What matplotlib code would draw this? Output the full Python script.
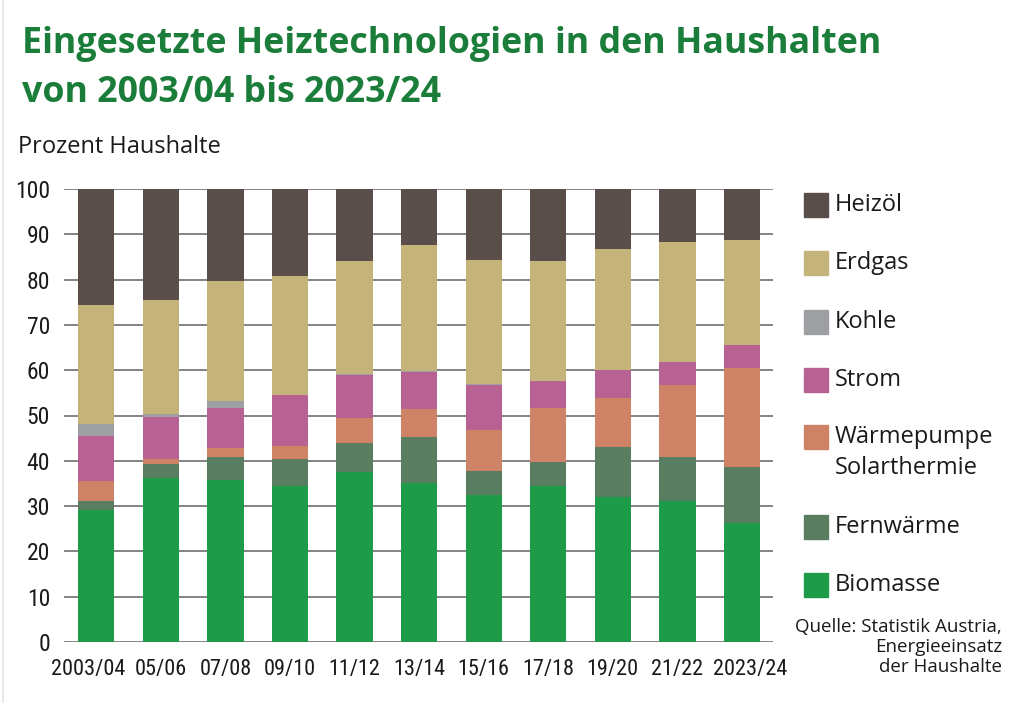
import matplotlib
matplotlib.use("Agg")
import matplotlib.pyplot as plt
from matplotlib import font_manager
from matplotlib.patches import Rectangle
from matplotlib.lines import Line2D
import matplotlib.transforms as mtransforms
import numpy as np

# Data (percent of households)
years = ["2003/04", "05/06", "07/08", "09/10", "11/12", "13/14",
         "15/16", "17/18", "19/20", "21/22", "2023/24"]
biomasse = [29.2, 36.1, 35.8, 34.5, 37.6, 35.0, 32.5, 34.4, 32.0, 31.1, 26.3]
fernwaerme = [1.9, 3.3, 5.0, 5.8, 6.4, 10.3, 5.3, 5.4, 11.1, 9.7, 12.4]
waermepumpe = [4.4, 1.1, 2.0, 3.0, 5.5, 6.2, 9.1, 11.9, 10.8, 15.9, 21.7]
strom = [10.0, 9.2, 8.9, 11.3, 9.4, 8.0, 9.8, 5.9, 6.1, 5.0, 5.2]
kohle = [2.7, 0.6, 1.6, 0.0, 0.3, 0.3, 0.2, 0.0, 0.0, 0.0, 0.0]
erdgas = [26.3, 25.2, 26.4, 26.3, 24.8, 27.8, 27.5, 26.5, 26.7, 26.6, 23.1]
heizoel = [25.5, 24.5, 20.3, 19.1, 16.0, 12.4, 15.6, 15.9, 13.3, 11.7, 11.3]

series = [
    ("Biomasse", biomasse, "#1e9b48"),
    ("Fernwärme", fernwaerme, "#587d61"),
    ("Wärmepumpe\nSolarthermie", waermepumpe, "#cf8366"),
    ("Strom", strom, "#b76293"),
    ("Kohle", kohle, "#9d9fa2"),
    ("Erdgas", erdgas, "#c5b47a"),
    ("Heizöl", heizoel, "#5a4e4a"),
]


def pick_font(names):
    available = {f.name for f in font_manager.fontManager.ttflist}
    for n in names:
        if n in available:
            return n
    return "DejaVu Sans"


narrow = pick_font(["Liberation Sans Narrow", "Roboto Condensed", "Open Sans Condensed", "Lato", "Roboto"])
title_font = pick_font(["Open Sans", "Noto Sans", "Lato"])
text_font = pick_font(["Open Sans", "Noto Sans", "Lato"])
dark = "#1a1a1a"

fig = plt.figure(figsize=(10.24, 7.03), dpi=100)
ax = fig.add_axes([64 / 1024, 1 - 642 / 703, (773 - 64) / 1024, (642 - 189) / 703])

x = np.arange(len(years))
bottom = np.zeros(len(years))
for name, vals, col in series:
    ax.bar(x, vals, 0.56, bottom=bottom, color=col, zorder=3, linewidth=0)
    bottom += np.array(vals)

ax.set_xlim(-0.5, len(years) - 0.52)
ax.set_ylim(0, 100)
ax.set_yticks(range(0, 101, 10))
ax.set_xticks(x)
ax.set_xticklabels(years)
for s in ax.spines.values():
    s.set_visible(False)
ax.yaxis.grid(True, color="#6e6e6e", linewidth=1.2, zorder=1)
ax.set_axisbelow(True)
ax.tick_params(axis="y", length=0, labelsize=17, colors=dark, pad=10)
ax.tick_params(axis="x", length=0, labelsize=16, colors=dark, pad=12)
for lab in ax.get_xticklabels() + ax.get_yticklabels():
    lab.set_fontfamily(narrow)

# the outer year labels sit a little outward, as in the original
xlabels = ax.get_xticklabels()
xlabels[0].set_transform(xlabels[0].get_transform() +
                         mtransforms.ScaledTranslation(-8 / 100, 0, fig.dpi_scale_trans))
xlabels[-1].set_transform(xlabels[-1].get_transform() +
                          mtransforms.ScaledTranslation(8 / 100, 0, fig.dpi_scale_trans))

# faint frame line on the left edge
fig.lines.append(Line2D([3 / 1024, 3 / 1024], [0, 1], transform=fig.transFigure,
                        color="#e8e8e8", linewidth=1.5))

green = "#1b7d3a"
fig.text(22 / 1024, 1 - 53 / 703, "Eingesetzte Heiztechnologien in den Haushalten",
         fontsize=25.75, fontweight="bold", color=green, family=title_font, va="baseline")
fig.text(22 / 1024, 1 - 102 / 703, "von 2003/04 bis 2023/24",
         fontsize=25.75, fontweight="bold", color=green, family=title_font, va="baseline")
fig.text(18 / 1024, 1 - 153 / 703, "Prozent Haushalte", fontsize=17,
         color=dark, family=text_font, va="baseline")

# legend, top to bottom
legend_y = [205, 263, 322, 380, 437, 527, 585]
for (name, vals, col), yc in zip(series[::-1], legend_y):
    fig.patches.append(Rectangle((804 / 1024, 1 - (yc + 12) / 703), 24 / 1024, 24 / 703,
                                 transform=fig.transFigure, color=col))
    lines = name.split("\n")
    for i, line in enumerate(lines):
        fig.text(835 / 1024, 1 - (yc + 31 * i) / 703, line, fontsize=17, va="center",
                 family=text_font, color=dark)

source = ["Quelle: Statistik Austria,", "Energieeinsatz", "der Haushalte"]
for line, yb in zip(source, [632, 652, 672]):
    fig.text(1002 / 1024, 1 - yb / 703, line, fontsize=13.5, ha="right", va="baseline",
             family=text_font, color=dark)

fig.savefig("out.png", dpi=100)
